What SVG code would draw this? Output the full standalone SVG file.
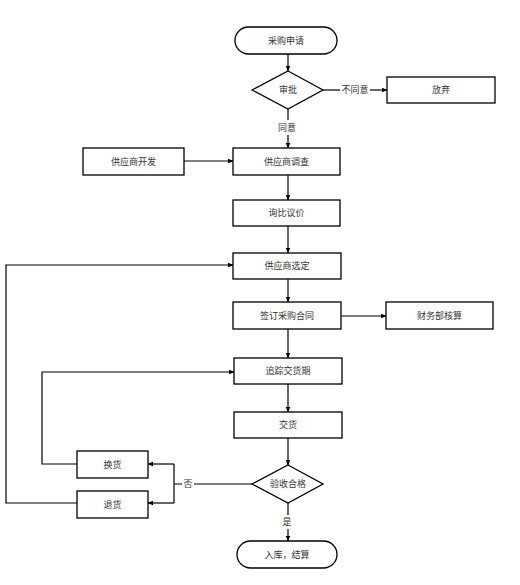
<svg xmlns="http://www.w3.org/2000/svg" width="520" height="585" viewBox="0 0 520 585">
<style>
.box{fill:#fff;stroke:#000;stroke-width:1.3}
.t{font-family:"Liberation Sans","Noto Sans CJK SC",sans-serif;font-size:9px;fill:#333;text-anchor:middle;dominant-baseline:central}
.c{fill:none;stroke:#000;stroke-width:1.2}
</style>
<defs>
<marker id="a" viewBox="0 0 10 10" refX="9" refY="5" markerWidth="6" markerHeight="6" markerUnits="userSpaceOnUse" orient="auto">
<path d="M0,1 L10,5 L0,9 z" fill="#000"/>
</marker>
</defs>
<rect width="520" height="585" fill="#fff"/>
<g id="connectors">
<path class="c" d="M288,54 V71" marker-end="url(#a)"/>
<path class="c" d="M323,90 H340"/>
<path class="c" d="M370,90 H387" marker-end="url(#a)"/>
<path class="c" d="M288,109 V120"/>
<path class="c" d="M288,135 V148" marker-end="url(#a)"/>
<path class="c" d="M184,161 H233" marker-end="url(#a)"/>
<path class="c" d="M288,175 V200" marker-end="url(#a)"/>
<path class="c" d="M288,226 V253" marker-end="url(#a)"/>
<path class="c" d="M288,279 V302" marker-end="url(#a)"/>
<path class="c" d="M341,316 H386" marker-end="url(#a)"/>
<path class="c" d="M288,329 V358" marker-end="url(#a)"/>
<path class="c" d="M288,384 V412" marker-end="url(#a)"/>
<path class="c" d="M288,438 V465" marker-end="url(#a)"/>
<path class="c" d="M252,484 H194"/>
<path class="c" d="M182,484 H174 M174,464 V503"/>
<path class="c" d="M174,464 H148" marker-end="url(#a)"/>
<path class="c" d="M174,503 H148" marker-end="url(#a)"/>
<path class="c" d="M77,464 H42 V372 H234" marker-end="url(#a)"/>
<path class="c" d="M77,503 H6 V265 H233" marker-end="url(#a)"/>
<path class="c" d="M288,503 V515"/>
<path class="c" d="M288,529 V541" marker-end="url(#a)"/>
<text class="t" x="355" y="90">不同意</text>
<text class="t" x="287" y="128">同意</text>
<text class="t" x="188" y="484">否</text>
<text class="t" x="287" y="522">是</text>
</g>
<g id="start"><rect class="box" x="235" y="27" width="102" height="27" rx="13.5"/><text class="t" x="286" y="40.5">采购申请</text></g>
<g id="approve"><polygon class="box" points="288,71 323,90 288,109 252,90"/><text class="t" x="288" y="90">审批</text></g>
<g id="abandon"><rect class="box" x="387" y="77" width="108" height="26"/><text class="t" x="441" y="90">放弃</text></g>
<g id="develop"><rect class="box" x="83" y="148" width="101" height="27"/><text class="t" x="133.5" y="161.5">供应商开发</text></g>
<g id="survey"><rect class="box" x="233" y="148" width="107" height="27"/><text class="t" x="286.5" y="161.5">供应商调查</text></g>
<g id="inquiry"><rect class="box" x="233" y="200" width="107" height="26"/><text class="t" x="286.5" y="213">询比议价</text></g>
<g id="select"><rect class="box" x="233" y="253" width="108" height="26"/><text class="t" x="287" y="266">供应商选定</text></g>
<g id="contract"><rect class="box" x="233" y="302" width="108" height="27"/><text class="t" x="287" y="315.5">签订采购合同</text></g>
<g id="finance"><rect class="box" x="386" y="302" width="107" height="27"/><text class="t" x="439.5" y="315.5">财务部核算</text></g>
<g id="track"><rect class="box" x="234" y="358" width="108" height="26"/><text class="t" x="288" y="371">追踪交货期</text></g>
<g id="deliver"><rect class="box" x="234" y="412" width="108" height="26"/><text class="t" x="288" y="425">交货</text></g>
<g id="inspect"><polygon class="box" points="288,465 323,484 288,503 252,484"/><text class="t" x="288" y="484">验收合格</text></g>
<g id="exchange"><rect class="box" x="77" y="451" width="71" height="27"/><text class="t" x="112.5" y="464.5">换货</text></g>
<g id="return"><rect class="box" x="77" y="491" width="71" height="27"/><text class="t" x="112.5" y="504.5">退货</text></g>
<g id="end"><rect class="box" x="237" y="541" width="100" height="27" rx="13.5"/><text class="t" x="287" y="554.5">入库，结算</text></g>
</svg>
